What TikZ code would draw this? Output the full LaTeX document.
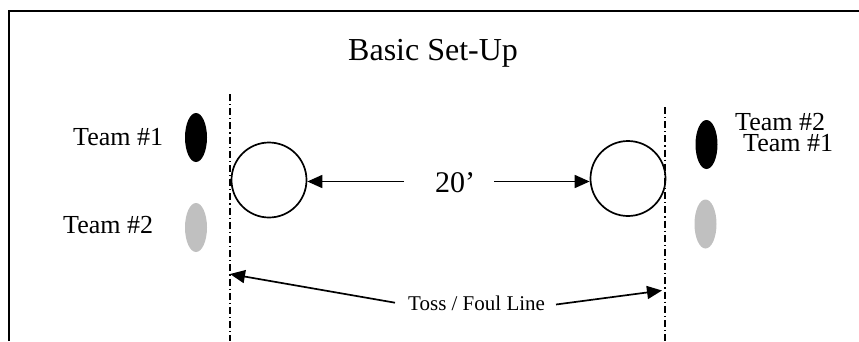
\documentclass[tikz,border=0pt]{standalone}
\usepackage{fontspec}
\setmainfont{Liberation Serif}
\usetikzlibrary{arrows.meta,shapes.geometric}
\definecolor{teamgray}{HTML}{C0C0C0}
\tikzset{
  lbl/.style={anchor=base west, inner sep=0pt, font=\fontsize{26}{28}\selectfont},
  ring/.style={circle, draw, line width=1.7pt, minimum size=75pt, inner sep=0pt},
  player/.style={ellipse, minimum width=22pt, minimum height=49pt, inner sep=0pt},
  foul/.style={line width=1.3pt, dash pattern=on 7pt off 3pt on 1.2pt off 3pt},
  arr/.style={line width=1.7pt, -{Triangle[length=15pt,width=13pt]}},
}
\begin{document}
\begin{tikzpicture}[x=1pt,y=-1pt]
\useasboundingbox (0,0) rectangle (859,341);
% frame
\draw[line width=2pt] (8.5,341) -- (8.5,11) -- (859,11);
% title
\node[lbl, font=\fontsize{32}{34}\selectfont] (title) at (348,60) {Basic Set-Up};
% foul lines
\coordinate (L1t) at (230,94);
\coordinate (L1b) at (230,341);
\coordinate (L2t) at (665,107);
\coordinate (L2b) at (665,341);
\draw[foul] (L1t) -- (L1b);
\draw[foul] (L2t) -- (L2b);
% players left
\node[player, fill=black] (p1l) at (196,137.5) {};
\node[player, fill=teamgray] (p2l) at (196,227.5) {};
\node[lbl] (t1l) at (73,145.7) {Team \#1};
\node[lbl] (t2l) at (63,233) {Team \#2};
% players right
\node[player, fill=black] (p1r) at (706.5,144.5) {};
\node[player, fill=teamgray] (p2r) at (705.5,224) {};
\node[lbl] (t2r) at (735,130) {Team \#2};
\node[lbl] (t1r) at (743,151) {Team \#1};
% circles
\node[ring] (c1) at (269,180) {};
\node[ring] (c2) at (628,178.5) {};
% 20'
\node[lbl, font=\fontsize{30}{32}\selectfont] (dist) at (435,192) {20’};
\coordinate (a1) at (404,181.5);
\coordinate (a2) at (494,181.5);
\draw[arr] (a1) -- (a1 -| c1.east);
\draw[arr] (a2) -- (a2 -| c2.west);
% toss / foul line
\node[lbl, font=\fontsize{21}{23}\selectfont] (toss) at (408,310) {Toss / Foul Line};
\coordinate (f1) at (395,302.7);
\coordinate (e1) at (230,274);
\coordinate (f2) at (556,304.5);
\coordinate (e2) at (662,290.5);
\draw[arr] (f1) -- (e1);
\draw[arr] (f2) -- (e2);
\end{tikzpicture}
\end{document}
